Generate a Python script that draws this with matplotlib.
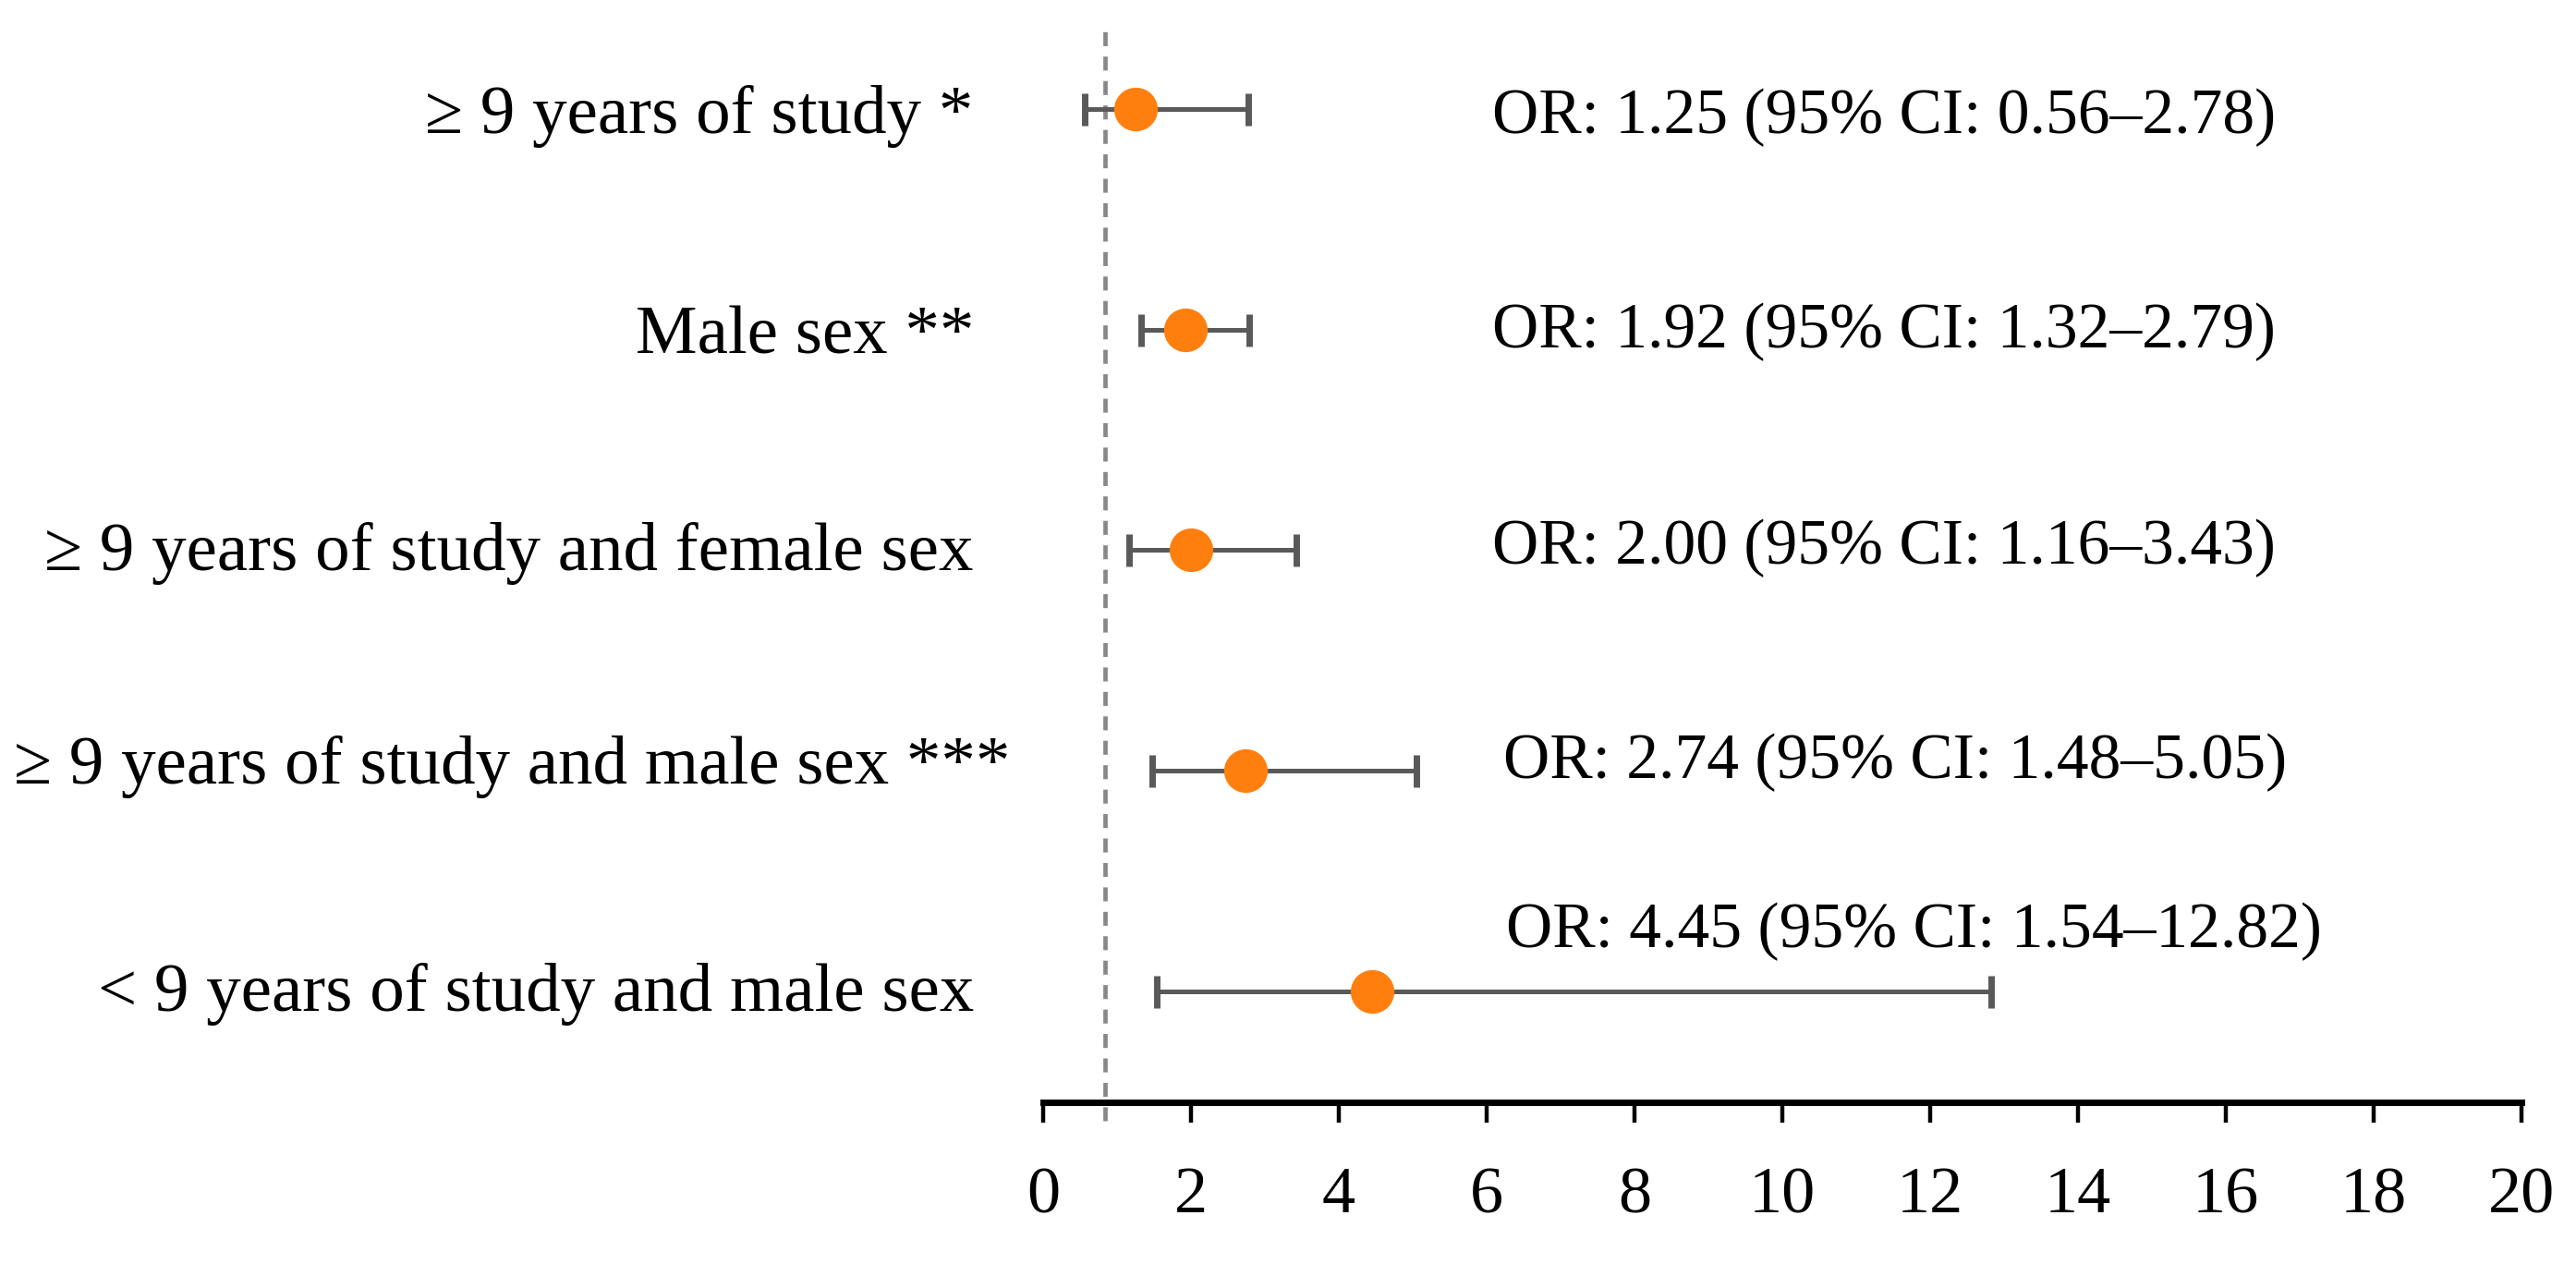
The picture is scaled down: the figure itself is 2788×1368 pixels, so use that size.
import numpy as np
import matplotlib
matplotlib.use('Agg')
import matplotlib.pyplot as plt

# odds ratios with 95% CI
labels = ['\u2265 9 years of study *',
          'Male sex **',
          '\u2265 9 years of study and female sex',
          '\u2265 9 years of study and male sex ***',
          '< 9 years of study and male sex']
odds = [1.25, 1.92, 2.00, 2.74, 4.45]
ci_low = [0.56, 1.32, 1.16, 1.48, 1.54]
ci_high = [2.78, 2.79, 3.43, 5.05, 12.82]
ref_line = 0.84
xticks = list(range(0, 21, 2))

# text placement (data units) -- labels and OR strings are not evenly placed in the original
label_x = [-0.95, -0.93, -0.94, -0.45, -0.94]
label_dy = [0.0, 0.0, -0.02, -0.05, -0.02]
or_x = [6.07, 6.07, 6.07, 6.23, 6.26]
or_dy = [0.01, -0.02, -0.04, -0.07, -0.30]

ORANGE = '#FF7F0E'
GREY = '#595959'
FONT = 'Liberation Serif'
FS = 25
FS_LAB = 27

plt.rcParams['font.family'] = FONT

fig = plt.figure(figsize=(13.94, 6.84), dpi=200)
ax = fig.add_axes([1129 / 2788, (1368 - 1193) / 1368, 1600 / 2788, 1193 / 1368])

y = np.arange(len(labels))
xerr = [np.array(odds) - np.array(ci_low), np.array(ci_high) - np.array(odds)]
ax.errorbar(odds, y, xerr=xerr, fmt='none', ecolor=GREY, elinewidth=1.8,
            capsize=6.3, capthick=2.5, zorder=2)
ax.plot(odds, y, 'o', ms=16, color=ORANGE, mec=ORANGE, zorder=3)

ax.axvline(ref_line, ymin=-0.017, ymax=0.974, color='#888888', lw=1.7,
           dashes=(3.2, 2.4), clip_on=False, zorder=1)

for i, lab in enumerate(labels):
    ax.text(label_x[i], i + label_dy[i], lab, ha='right', va='center_baseline',
            fontsize=FS_LAB, clip_on=False)
    txt = f'OR: {odds[i]:.2f} (95% CI: {ci_low[i]:.2f}\u2013{ci_high[i]:.2f})'
    ax.text(or_x[i], i + or_dy[i], txt, ha='left', va='center_baseline',
            fontsize=FS, clip_on=False)

ax.set_xlim(0, 20)
ax.set_ylim(4.503, -0.494)
ax.set_xticks(xticks)
ax.set_xticklabels([str(t) for t in xticks], fontsize=26)
ax.set_yticks([])
for s in ['top', 'right', 'left']:
    ax.spines[s].set_visible(False)
ax.spines['bottom'].set_linewidth(2.5)
ax.tick_params(axis='x', direction='out', length=8, width=1.6, pad=17)

fig.savefig('out.png', dpi=200)
